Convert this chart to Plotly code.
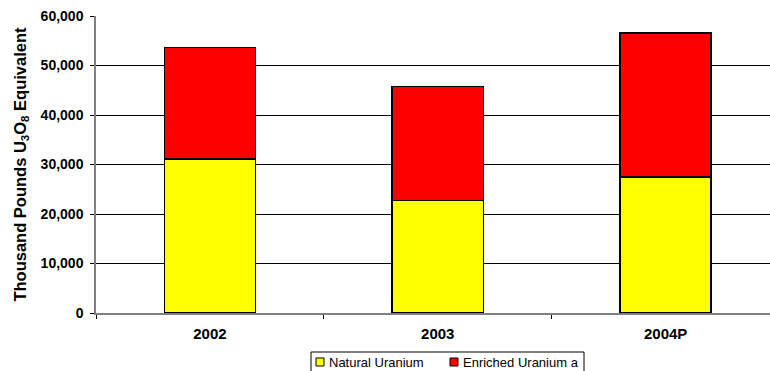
import plotly.graph_objects as go

# Uranium purchases by type (thousand pounds U3O8 equivalent)
years = ["2002", "2003", "2004P"]
natural_uranium = [31100, 22750, 27450]
enriched_uranium = [22550, 23000, 29100]

series_names = ["Natural Uranium", "Enriched Uranium a"]
series_colors = ["#FFFF00", "#FF0000"]

y_ticks = [0, 10000, 20000, 30000, 40000, 50000, 60000]
y_tick_text = ["0", "10,000", "20,000", "30,000", "40,000", "50,000", "60,000"]

FONT = "Liberation Sans, Arial, sans-serif"

fig = go.Figure()
for values, name, color in zip([natural_uranium, enriched_uranium], series_names, series_colors):
    fig.add_trace(go.Bar(
        x=years, y=values, name=name,
        marker=dict(color=color, line=dict(color="#000000", width=1.5)),
    ))

# Boxed key below the plot: border, swatches and labels laid out in pixels
W, H = 770, 371
ML, MR, MT, MB = 96, 0, 16, 58
pw, ph = W - ML - MR, H - MT - MB


def px_x(p):
    return (p - ML) / pw


def px_y(p):
    return (H - MB - p) / ph


shapes = [dict(type="rect", xref="paper", yref="paper",
               x0=px_x(311), x1=px_x(584), y0=px_y(352), y1=px_y(374),
               line=dict(color="#000000", width=1), fillcolor="white", layer="above")]
annotations = []
key_left = [316, 450]
for left, name, color in zip(key_left, series_names, series_colors):
    shapes.append(dict(type="rect", xref="paper", yref="paper",
                       x0=px_x(left), x1=px_x(left + 8), y0=px_y(358), y1=px_y(366),
                       line=dict(color="#000000", width=1), fillcolor=color, layer="above"))
    annotations.append(dict(xref="paper", yref="paper", x=px_x(left + 11), y=px_y(362.5),
                            xanchor="left", yanchor="middle", showarrow=False,
                            text=name, font=dict(size=13, family=FONT, color="#000000")))

fig.update_layout(
    width=W, height=H,
    barmode="stack", bargap=0.6,
    margin=dict(l=ML, r=MR, t=MT, b=MB, autoexpand=False),
    paper_bgcolor="white", plot_bgcolor="white",
    font=dict(family=FONT, color="#000000"),
    showlegend=False,
    shapes=shapes,
    annotations=annotations,
    xaxis=dict(
        type="category", range=[-0.5, 2.458],
        showline=True, linecolor="#808080", linewidth=1.5,
        ticks="outside", tickson="boundaries", ticklen=4, tickcolor="#000000",
        tickfont=dict(size=15),
        ticklabelstandoff=6,
        tickprefix="<b>", ticksuffix="</b>",
        showgrid=False,
    ),
    yaxis=dict(
        range=[0, 60000], tickvals=y_ticks, ticktext=[f"<b>{t}</b>" for t in y_tick_text],
        showline=True, linecolor="#808080", linewidth=1.5,
        ticks="outside", ticklen=4, tickcolor="#000000",
        tickfont=dict(size=14),
        ticklabelstandoff=4,
        showgrid=True, gridcolor="#000000", gridwidth=1,
        zeroline=False,
        title=dict(text="<b>Thousand Pounds U<sub>3</sub>O<sub>8</sub> Equivalent</b>",
                   font=dict(size=16.5), standoff=10),
    ),
)

fig.write_html("out.html")
